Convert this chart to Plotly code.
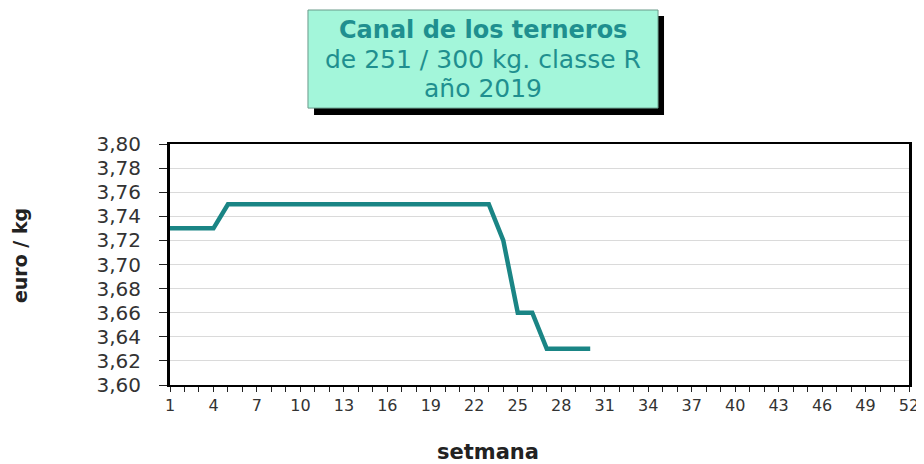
import plotly.graph_objects as go

weeks = list(range(1, 31))
prices = [3.73, 3.73, 3.73, 3.73,
          3.75, 3.75, 3.75, 3.75, 3.75, 3.75, 3.75, 3.75, 3.75, 3.75,
          3.75, 3.75, 3.75, 3.75, 3.75, 3.75, 3.75, 3.75, 3.75,
          3.72, 3.66, 3.66, 3.63, 3.63, 3.63, 3.63]

x_tickvals = list(range(1, 53, 3))
y_tickvals = [3.60 + 0.02 * i for i in range(11)]
y_ticktext = [f"{v:.2f}".replace(".", ",") for v in y_tickvals]

title_lines = ["<b>Canal de los terneros</b>", "de 251 / 300 kg. classe R", "año 2019"]
x_title = "<b>setmana</b>"
y_title = "<b>euro / kg</b>"

FONT = "DejaVu Sans"
TEAL = "#1a8585"

fig = go.Figure()
fig.add_trace(go.Scatter(
    x=weeks, y=prices, mode="lines",
    line=dict(color=TEAL, width=4.5),
    showlegend=False, hoverinfo="skip",
))

# page body has an 8px margin -> figure is drawn 8px in from the window corner
fig.update_layout(
    width=916, height=464,
    margin=dict(l=162, r=15, t=136, b=87, autoexpand=False),
    paper_bgcolor="white", plot_bgcolor="white",
    font=dict(family=FONT, color="#222"),
    xaxis=dict(
        range=[1, 52], tickvals=x_tickvals, ticks="outside", ticklen=5,
        tickwidth=1, tickcolor="#222", automargin=False,
        minor=dict(dtick=1, tick0=1, ticks="outside", ticklen=5, tickcolor="#222"),
        showline=True, linecolor="black", linewidth=2, mirror=True,
        showgrid=False, zeroline=False,
        tickfont=dict(size=16, family=FONT, color="#333"),
    ),
    yaxis=dict(
        range=[3.60, 3.80], tickvals=y_tickvals, ticktext=y_ticktext,
        ticks="outside", ticklen=8, tickcolor="#222", automargin=False,
        ticklabelstandoff=14,
        showline=True, linecolor="black", linewidth=3, mirror=True,
        showgrid=True, gridcolor="#dadada", gridwidth=1, zeroline=False,
        tickfont=dict(size=20, family=FONT, color="#333"),
    ),
)

fig.add_annotation(xref="paper", yref="paper", x=0.430, y=-0.28, text=x_title,
                   showarrow=False, xanchor="center", yanchor="middle",
                   font=dict(size=21, family=FONT, color="#222"))
fig.add_annotation(xref="paper", yref="paper", x=-0.203, y=0.539, text=y_title,
                   showarrow=False, xanchor="center", yanchor="middle", textangle=-90,
                   font=dict(size=19, family=FONT, color="#222"))

# title box with shadow
fig.add_shape(type="rect", xref="paper", yref="paper",
              x0=0.1949, x1=0.6685, y0=1.120, y1=1.531,
              fillcolor="black", line=dict(width=0), layer="above")
fig.add_shape(type="rect", xref="paper", yref="paper",
              x0=0.1867, x1=0.6604, y0=1.149, y1=1.556,
              fillcolor="#a3f6da", line=dict(color="#6a9a8a", width=1), layer="above")

line_y = [1.473, 1.349, 1.232]
sizes = [24, 25, 25]
for txt, yy, s in zip(title_lines, line_y, sizes):
    fig.add_annotation(xref="paper", yref="paper", x=0.4235, y=yy,
                       text=txt, showarrow=False, xanchor="center", yanchor="middle",
                       font=dict(size=s, family=FONT, color="#1f8f8f"))

fig.write_html("out.html")
